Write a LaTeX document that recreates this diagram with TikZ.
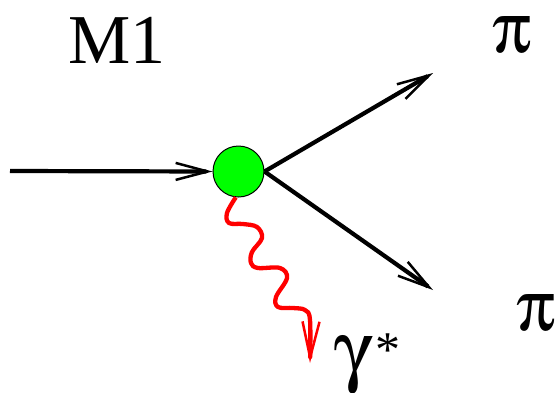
\documentclass[tikz,border=0pt]{standalone}
\usepackage{fontspec}
\setmainfont{Liberation Serif}
\usepackage[Symbol]{upgreek}
\usetikzlibrary{arrows.meta}
\definecolor{vgreen}{RGB}{0,255,0}
\definecolor{vred}{RGB}{255,0,0}
\tikzset{
  leg/.style={line width=4.2pt, -{Straight Barb[length=32pt,width=17pt,line width=2.5pt]}},
  photon/.style={vred, line width=4.3pt, line join=round, -{Straight Barb[length=36pt,width=17pt,line width=2.5pt]}},
  vertex/.style={circle, draw=black, line width=1pt, fill=vgreen, minimum size=51pt, inner sep=0pt},
  lbl/.style={inner sep=0pt, anchor=base west, text height=38pt, text depth=12pt},
}
\begin{document}
\begin{tikzpicture}[x=1pt,y=-1pt]
\useasboundingbox (0,0) rectangle (555,392);
\node[vertex] (v) at (238.5,171.5) {};
\coordinate (in) at (10,171);
\coordinate (p1) at (433,73);
\coordinate (p2) at (433,290);
\coordinate (g) at (310,363);
\draw[leg] (in) -- (v.west);
\draw[leg] (v.east) -- (p1);
\draw[leg] (v.east) -- (p2);
\draw[photon] plot[smooth, tension=0.6] coordinates {(v.-96) (227,213) (229,223) (243,224) (257,227) (262,238) (252,252) (251,263) (258,268) (280,268) (287,278) (276,297) (278,307) (293,308) (305,310) (310,320) (g)};
\node[lbl, font=\fontsize{70}{70}\selectfont] (m1) at (68,63) {M1};
\node[lbl, font=\fontsize{72}{72}\selectfont] (pi1) at (492,52) {$\uppi$};
\node[lbl, font=\fontsize{72}{72}\selectfont] (pi2) at (516,330) {$\uppi$};
\node[lbl, font=\fontsize{80}{80}\selectfont, text depth=10pt] (gam) at (334,376) {$\upgamma$\kern3pt\raisebox{10pt}{\fontsize{50}{50}\selectfont *}};
\end{tikzpicture}
\end{document}
